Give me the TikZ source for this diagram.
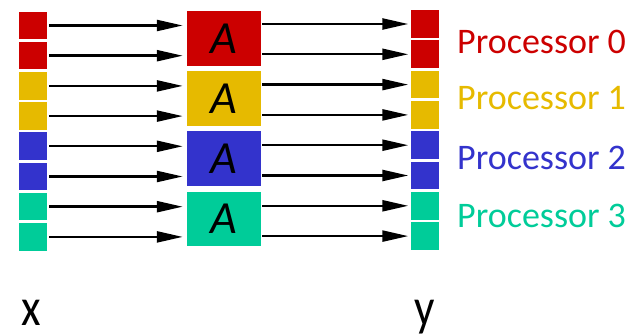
\documentclass[tikz,border=0pt]{standalone}
\usepackage{fontspec}
\setmainfont{Carlito}
\usepackage{xcolor}
\usetikzlibrary{calc,positioning,arrows.meta}

\definecolor{pred}{HTML}{CC0000}
\definecolor{pyel}{HTML}{E6BA00}
\definecolor{pblue}{HTML}{3333CC}
\definecolor{pteal}{HTML}{00CC99}

\tikzset{
  cell/.style={inner sep=0pt, minimum width=28pt, minimum height=27.6pt},
  blockA/.style={inner sep=0pt, minimum width=74.5pt, minimum height=54.5pt,
    font=\fontsize{46}{46}\selectfont\itshape},
  arr/.style={line width=2.4pt, -{Triangle[length=26pt,width=11pt]}},
  proclab/.style={anchor=base west, inner sep=0pt, font=\fontsize{36}{36}\selectfont},
  veclab/.style={anchor=base west, inner sep=0pt, xscale=0.85, font=\fontsize{53}{53}\selectfont}
}

\begin{document}
\begin{tikzpicture}[x=1pt,y=-1pt]
		\useasboundingbox (0,0) rectangle (633,334);
		
		% blocks of A, one for each processor
		\foreach \k/\c in {0/pred,1/pyel,2/pblue,3/pteal}
			\node[blockA,fill=\c] (A\k) at (224.2, {38.5+60.1*\k}) {A};
		
		% input and output entries
		\foreach \k/\c in {0/pred,1/pyel,2/pblue,3/pteal} {
			\foreach \r in {0,1} {
				\pgfmathtruncatemacro\i{2*\k+\r}
				\node[cell,fill=\c] (x\i) at (33, {25.5+30.2*\i}) {};
				\node[cell,fill=\c] (y\i) at (425, {24+30.3*\i}) {};
				\draw[arr, shorten <=2pt, shorten >=4pt] (x\i.east) -- (x\i.east -| A\k.west);
				\draw[arr, shorten <=0.5pt, shorten >=2.5pt] (A\k.east |- y\i.west) -- (y\i.west);
			}
		}
		
		\node[proclab,text=pred]  (lab0) at (457, 53.3) {Processor 0};
		\node[proclab,text=pyel]  (lab1) at (457, 110) {Processor 1};
		\node[proclab,text=pblue] (lab2) at (457, 169.3) {Processor 2};
		\node[proclab,text=pteal] (lab3) at (457, 227.3) {Processor 3};
		
		\node[veclab] (xlab) at (21, 326) {x};
		\node[veclab] (ylab) at (414, 326) {y};
	\end{tikzpicture}
\end{document}
